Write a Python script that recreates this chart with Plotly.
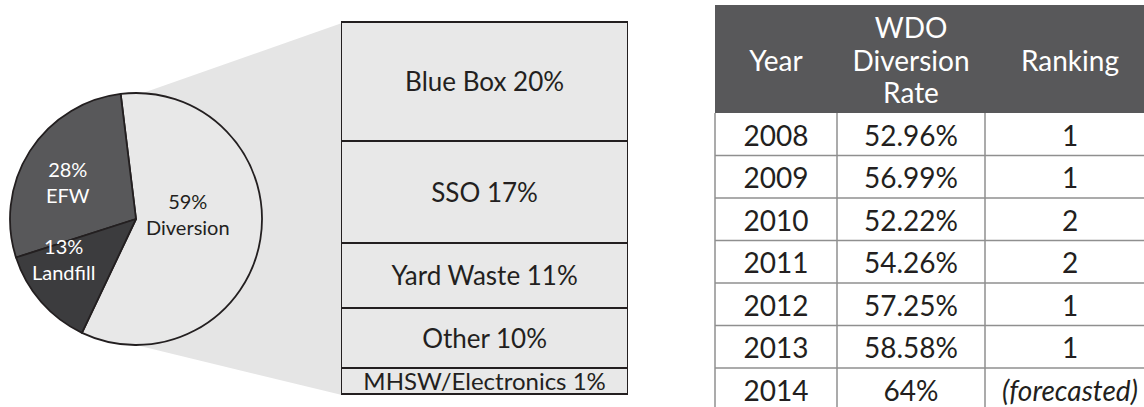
import plotly.graph_objects as go

W, H = 1144, 407
FONT = "Lato"

# ---------------- data ----------------
pie_labels = ["Diversion", "EFW", "Landfill"]
pie_values = [59, 28, 13]

stream_labels = ["Blue Box", "SSO", "Yard Waste", "Other", "MHSW/Electronics"]  # top -> bottom
stream_values = [20, 17, 11, 10, 1]

years = ["2008", "2009", "2010", "2011", "2012", "2013", "2014"]
rates = ["52.96%", "56.99%", "52.22%", "54.26%", "57.25%", "58.58%", "64%"]
rankings = ["1", "1", "2", "2", "1", "1", "<i>(forecasted)</i>"]
table_header = ["Year", "WDO<br>Diversion<br>Rate", "Ranking"]

# ---------------- style / layout constants ----------------
LIGHT = "#e8e8e8"
WEDGE = "#e5e5e5"
MID = "#58585a"
DARK = "#3c3c3e"
INK = "#231f20"
GRID = "#8f8f8f"
MIN_SEG = 4.5  # minimum displayed height for tiny segments so the label fits

# pie geometry (pixels)
PIE_CX, PIE_CY, PIE_R = 136, 219, 126
PIE_ROT = -7
PIE_FONT = 20
# label anchor points per slice (pixels), same order as pie_labels
PIE_LABEL_POS = [(188, 214), (68, 182), (63.5, 259)]
PIE_LABEL_COL = [INK, "white", "white"]

# bar geometry (pixels)
BAR_X0, BAR_X1, BAR_TOP, BAR_BOT = 342, 628, 23, 395

# table geometry (pixels)
TBL_X0, TBL_Y0 = 715, 5
COL_W = [122, 148, 170]
HEAD_H, ROW_H = 108, 42.5
HEAD_LINE = 32.5
TEXT_DY = 4.5  # nudge text so glyphs sit centred in their cells
TBL_FONT = 28


def px(x):
    return x / W


def py(y):
    return 1 - y / H


fig = go.Figure()

# ---------------- connector wedge ----------------
fig.add_shape(type="path", xref="paper", yref="paper", layer="below",
              path=(f"M {px(140)},{py(94)} L {px(BAR_X0)},{py(BAR_TOP)} "
                    f"L {px(BAR_X0)},{py(BAR_BOT)} L {px(140)},{py(346)} Z"),
              fillcolor=WEDGE, line=dict(width=0))

# ---------------- pie ----------------
fig.add_trace(go.Pie(
    labels=pie_labels, values=pie_values, sort=False,
    direction="counterclockwise", rotation=PIE_ROT,
    marker=dict(colors=[LIGHT, MID, DARK], line=dict(color=INK, width=1.8)),
    textinfo="none",
    domain=dict(x=[px(PIE_CX - PIE_R), px(PIE_CX + PIE_R)],
                y=[py(PIE_CY + PIE_R), py(PIE_CY - PIE_R)]),
    hoverinfo="label+percent", showlegend=False,
))
total_pie = sum(pie_values)
for lab, v, (lx, ly), col in zip(pie_labels, pie_values, PIE_LABEL_POS, PIE_LABEL_COL):
    fig.add_annotation(x=px(lx), y=py(ly), xref="paper", yref="paper",
                       text=f"{round(100 * v / total_pie)}%<br>{lab}",
                       showarrow=False, xanchor="center", yanchor="middle", align="center",
                       font=dict(family=FONT, size=PIE_FONT, color=col))

# ---------------- stacked bar (bottom -> top) ----------------
shown = [max(v, MIN_SEG) for v in stream_values]
total = sum(shown)
ppu = (BAR_BOT - BAR_TOP) / total
pad_u = 0.4
pad_px = pad_u * ppu
padx = 0.02
padx_px = padx * (BAR_X1 - BAR_X0)
for lab, v, h in list(zip(stream_labels, stream_values, shown))[::-1]:
    fig.add_trace(go.Bar(
        x=[0], y=[h], width=1, xaxis="x", yaxis="y",
        marker=dict(color=LIGHT, line=dict(color=INK, width=1.4)),
        text=[f"{lab} {v}%"], textposition="inside", insidetextanchor="middle",
        textangle=0, constraintext="none",
        textfont=dict(family=FONT, size=24 if v < MIN_SEG else 26, color=INK),
        hoverinfo="text", hovertext=[f"{lab} {v}%"], showlegend=False,
    ))

# ---------------- table (drawn on a pixel canvas axis) ----------------
edges = [TBL_X0]
for w in COL_W:
    edges.append(edges[-1] + w)
centers = [(edges[i] + edges[i + 1]) / 2 for i in range(len(COL_W))]
n_rows = len(years)
head_bot = TBL_Y0 + HEAD_H
row_edges = [head_bot + ROW_H * i for i in range(n_rows + 1)]
row_mid = [head_bot + ROW_H * (i + 0.5) + TEXT_DY for i in range(n_rows)]

fig.add_shape(type="rect", xref="x2", yref="y2", x0=edges[0], x1=edges[-1],
              y0=TBL_Y0, y1=head_bot, fillcolor=MID, line=dict(width=0), layer="below")
for ye in row_edges[1:]:
    fig.add_shape(type="line", xref="x2", yref="y2", x0=edges[0], x1=edges[-1],
                  y0=ye, y1=ye, line=dict(color=GRID, width=1.5))
for xe in edges[:-1]:
    fig.add_shape(type="line", xref="x2", yref="y2", x0=xe, x1=xe,
                  y0=head_bot, y1=row_edges[-1], line=dict(color=GRID, width=1.5))

for cx, htxt in zip(centers, table_header):
    lines = htxt.split("<br>")
    hc = TBL_Y0 + HEAD_H / 2 + TEXT_DY
    ys = [hc + (k - (len(lines) - 1) / 2) * HEAD_LINE for k in range(len(lines))]
    fig.add_trace(go.Scatter(
        x=[cx] * len(lines), y=ys, text=lines, mode="text", xaxis="x2", yaxis="y2",
        textposition="middle center", cliponaxis=False,
        textfont=dict(family=FONT, size=TBL_FONT, color="white"),
        hoverinfo="skip", showlegend=False))

for cx, col in zip(centers, [years, rates, rankings]):
    fig.add_trace(go.Scatter(
        x=[cx] * n_rows, y=row_mid, text=col, mode="text", xaxis="x2", yaxis="y2",
        textposition="middle center", cliponaxis=False,
        textfont=dict(family=FONT, size=TBL_FONT, color=INK),
        hoverinfo="skip", showlegend=False))

fig.update_layout(
    width=W, height=H, margin=dict(l=0, r=0, t=0, b=0),
    paper_bgcolor="white", plot_bgcolor="rgba(0,0,0,0)",
    barmode="stack", bargap=0,
    xaxis=dict(domain=[px(BAR_X0 - padx_px), px(BAR_X1 + padx_px)],
               range=[-0.5 - padx, 0.5 + padx], visible=False, fixedrange=True),
    yaxis=dict(domain=[py(BAR_BOT + pad_px), py(BAR_TOP - pad_px)],
               range=[-pad_u, total + pad_u], visible=False, fixedrange=True),
    xaxis2=dict(domain=[0, 1], range=[0, W], visible=False, fixedrange=True, anchor="y2"),
    yaxis2=dict(domain=[0, 1], range=[H, 0], visible=False, fixedrange=True, anchor="x2"),
    font=dict(family=FONT, color=INK),
    hovermode="closest",
)

fig.write_html("out.html")
